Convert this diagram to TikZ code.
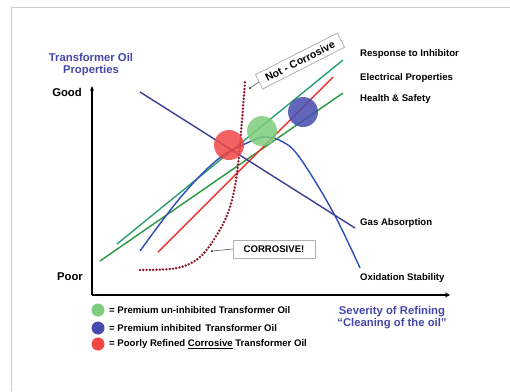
\documentclass[tikz,border=0pt]{standalone}
\usepackage{fontspec}
\setmainfont{Liberation Sans}
\usetikzlibrary{arrows.meta}
\definecolor{navy}{RGB}{58,62,150}
\definecolor{blueC}{RGB}{45,75,185}
\definecolor{tealG}{RGB}{40,160,110}
\definecolor{darkG}{RGB}{40,150,60}
\definecolor{redL}{RGB}{235,50,40}
\definecolor{dotR}{RGB}{140,25,45}
\definecolor{circR}{RGB}{240,70,70}
\definecolor{circG}{RGB}{125,205,125}
\definecolor{circB}{RGB}{70,75,175}
\definecolor{labB}{RGB}{70,70,170}
\definecolor{frameG}{RGB}{205,205,205}
\begin{document}
\begin{tikzpicture}[x=1pt,y=-1pt,
  lab/.style={font=\fontsize{9.6}{11}\selectfont\bfseries, inner sep=0pt, anchor=west},
  axlab/.style={font=\fontsize{11.3}{12}\selectfont\bfseries, inner sep=0pt},
  bluelab/.style={font=\fontsize{11.3}{12.5}\selectfont\bfseries, text=labB, align=center, inner sep=0pt},
  curve/.style={line width=1.4pt},
  blob/.style={circle, minimum size=30pt, inner sep=0pt},
  legdot/.style={circle, minimum size=13pt, inner sep=0pt},
  callout/.style={draw=gray!60, line width=0.8pt, fill=white, font=\fontsize{9.6}{11}\selectfont\bfseries, inner sep=0pt},
  pointer/.style={draw=gray!70!black, line width=0.6pt},
  tipdot/.style={circle, fill=black!80, minimum size=2.5pt, inner sep=0pt}
]
\useasboundingbox (0,0) rectangle (510,391);
% frame
\draw[frameG, line width=1pt] (11,391) -- (11,7) -- (510,7);

% axes
\coordinate (O) at (92,295);
\coordinate (ytop) at (92,86);
\coordinate (xend) at (450,295);
\draw[line width=1.5pt, -{Stealth[length=5pt,width=4pt]}] (O) -- (ytop);
\draw[line width=1.5pt, -{Stealth[length=5pt,width=5pt]}] (O) -- (xend);

% property lines
\draw[curve, tealG] (117,244) -- (343,60);
\draw[curve, darkG] (100,261) -- (343,93);
\draw[curve, redL] (158,252) -- (333,77);
\draw[curve, navy] (140,92) -- (355,228);
\draw[curve, blueC] plot[smooth, tension=0.6] coordinates {(140,251) (180,198) (217,160) (247,143) (265,137) (283,142) (300,158) (333,212) (360,268)};
% corrosion curve
\draw[dotR, line width=2.7pt, line cap=round, dash pattern=on 0pt off 3.3pt]
  plot[smooth, tension=0.6] coordinates {(140,270) (177,268) (200,257) (218,233) (230,207) (237,173) (242,120) (245,82)};

% circles
\node[blob, fill=circR, fill opacity=0.85] (cR) at (229,145) {};
\node[blob, fill=circG, fill opacity=0.85] (cG) at (262,131) {};
\node[blob, fill=circB, fill opacity=0.85] (cB) at (303,112) {};

% callouts
\node[callout, rotate=27, minimum width=92pt, minimum height=16pt] (nc) at (300,61) {\fontsize{10.6}{12}\selectfont Not - Corrosive};
\node[tipdot] (ncdot) at (250,88) {};
\draw[pointer] (ncdot) -- (nc.west);
\node[callout, minimum width=82pt, minimum height=18pt] (cc) at (274,249) {CORROSIVE!};
\node[tipdot] (ccdot) at (212,251) {};
\draw[pointer] (ccdot) -- (cc.west);

% right labels
\node[lab] (l1) at (360,54) {Response to Inhibitor};
\node[lab] (l2) at (360,78) {Electrical Properties};
\node[lab] (l3) at (360,99) {Health \& Safety};
\node[lab] (l4) at (360,223) {Gas Absorption};
\node[lab] (l5) at (360,278) {Oxidation Stability};

% axis labels
\node[bluelab] (ytitle) at (91,64.5) {Transformer Oil\\Properties};
\node[axlab, anchor=east] (good) at (82,92) {Good};
\node[axlab, anchor=east] (poor) at (83,277) {Poor};
\node[bluelab] (xtitle) at (392,317.5) {Severity of Refining\\“Cleaning of the oil”};

% legend
\node[legdot, fill=circG] (lg) at (98,310) {};
\node[legdot, fill=circB] (lb) at (98,328) {};
\node[legdot, fill=circR] (lr) at (98,344) {};
\node[lab] (tg) at (109,310) {= Premium un-inhibited Transformer Oil};
\node[lab] (tb) at (109,328) {= Premium inhibited\, Transformer Oil};
\node[lab] (tr) at (109,344) {= Poorly Refined \underline{Corrosive} Transformer Oil};
\end{tikzpicture}
\end{document}
